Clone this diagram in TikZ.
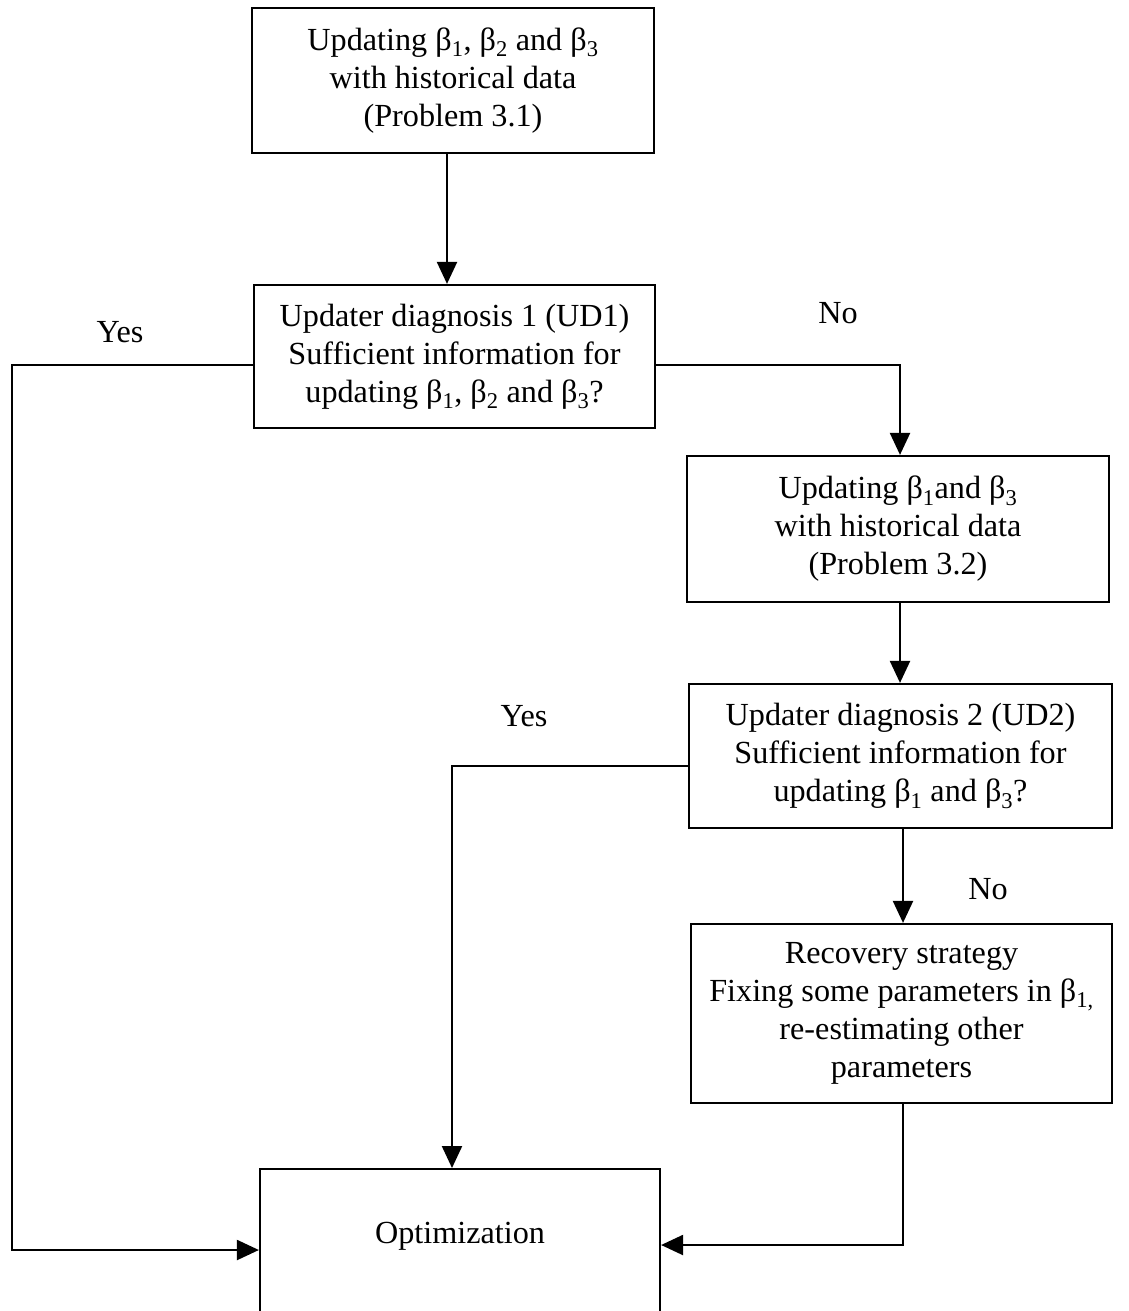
\documentclass[tikz,border=0pt]{standalone}
\usepackage{fontspec}
\setmainfont{Liberation Serif}
\usetikzlibrary{arrows.meta,calc}
\newcommand{\bsub}[1]{β\textsubscript{#1}}
\begin{document}
\begin{tikzpicture}[x=1pt,y=1pt,
  every node/.style={font=\fontsize{32.2}{38}\selectfont},
  box/.style={draw, line width=2.2pt, align=center, inner sep=0pt},
  lbl/.style={inner sep=0pt},
  conn/.style={line width=2.2pt, -{Triangle[length=22pt,width=20pt]}}]
\clip (0,0) rectangle (1129,-1311);
\fill[white] (0,0) rectangle (1129,-1311);
\node[box, minimum width=402, minimum height=145] (b1) at (453,-80.5)
  {Updating \bsub{1}, \bsub{2} and \bsub{3}\\with historical data\\(Problem 3.1)};
\node[box, minimum width=401, minimum height=143] (ud1) at (454.5,-356.5)
  {Updater diagnosis 1 (UD1)\\Sufficient information for\\updating \bsub{1}, \bsub{2} and \bsub{3}?};
\node[box, minimum width=422, minimum height=146] (b3) at (898,-529)
  {Updating \bsub{1}and \bsub{3}\\with historical data\\(Problem 3.2)};
\node[box, minimum width=423, minimum height=144] (ud2) at (900.5,-756)
  {Updater diagnosis 2 (UD2)\\Sufficient information for\\updating \bsub{1} and \bsub{3}?};
\node[box, minimum width=421, minimum height=179] (rec) at (901.5,-1013.5)
  {Recovery strategy\\Fixing some parameters in \bsub{1,}\\re-estimating other\\parameters};
\node[box, minimum width=400, minimum height=160, anchor=north] (opt) at (460,-1168) {};
\node[lbl] (optt) at (460,-1236) {Optimization};
\node[lbl] (y1) at (120,-332) {Yes};
\node[lbl] (n1) at (838,-313) {No};
\node[lbl] (y2) at (524,-716) {Yes};
\node[lbl] (n2) at (988,-889) {No};
\coordinate (lft) at (12,-1250);
\coordinate (mid) at (452,-766);
\draw[conn] (b1.south -| 447,0) -- (ud1.north -| 447,0);
\draw[conn] ([yshift=-8.5]ud1.west) -| (lft) -- (lft -| opt.west);
\draw[conn] ([yshift=-8.5]ud1.east) -| (b3.north -| 900,0);
\draw[conn] (b3.south -| 900,0) -- (ud2.north -| 900,0);
\draw[conn] ([yshift=-10]ud2.west) -- (mid) -- (mid |- opt.north);
\draw[conn] (ud2.south -| 903,0) -- (rec.north -| 903,0);
\draw[conn] (rec.south -| 903,0) |- (opt.east |- 0,-1245);
\end{tikzpicture}
\end{document}
